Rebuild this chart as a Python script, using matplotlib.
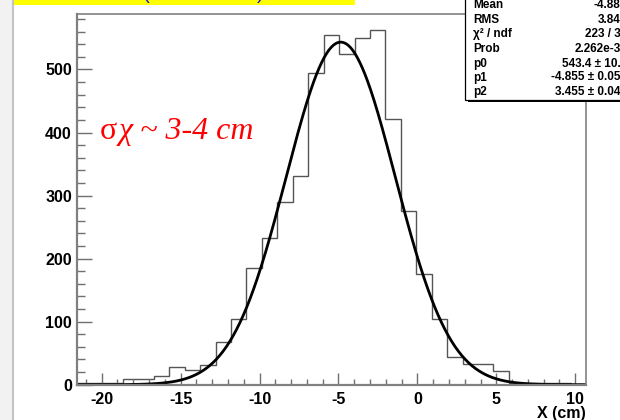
import matplotlib
matplotlib.use("Agg")
import matplotlib.pyplot as plt
import numpy as np
from matplotlib.patches import Rectangle
from matplotlib.ticker import MultipleLocator

plt.rcParams["axes.unicode_minus"] = False

# histogram: 33 bins over the frame range
x_lo, x_hi, nbins = -21.58, 10.68, 33
counts = [2, 2, 3, 9, 9, 14, 28, 24, 32, 68,
          105, 185, 232, 290, 331, 495, 555, 525, 550, 562,
          422, 275, 175, 105, 44, 33, 33, 22, 3, 3,
          2, 2, 1]
# gaussian fit results (from the stats box)
p0, p1, p2 = 543.4, -4.855, 3.455

stat_names = ["Mean", "RMS", "\u03c7\u00b2 / ndf", "Prob", "p0", "p1", "p2"]
stat_values = ["-4.886", "3.847", "223 / 30", "2.262e-32",
               "543.4 \u00b1 10.9", "-4.855 \u00b1 0.056", "3.455 \u00b1 0.045"]

W, H = 620, 420
fig = plt.figure(figsize=(6.2, 4.2), dpi=100)
fig.patch.set_facecolor("white")

# slide decorations
fig.patches.append(Rectangle((0, 0), 13 / W, 1, transform=fig.transFigure,
                             facecolor="#f2f2f2", edgecolor="none", zorder=0))
fig.lines.append(plt.Line2D([13 / W, 13 / W], [0, 1], transform=fig.transFigure,
                            color="#c4c4c4", lw=1.5))
fig.patches.append(Rectangle((14 / W, 1 - 5 / H), 341 / W, 5 / H, transform=fig.transFigure,
                             facecolor="#ffff00", edgecolor="none", zorder=0))
fig.text(143 / W, 1 + 1 / H, "(x resolution)", color="#2020c0", fontsize=15,
         family="Liberation Sans", ha="left", va="baseline")

ax = fig.add_axes([76.7 / W, 1 - 384.7 / H, (586 - 76.7) / W, (384.7 - 14) / H])
edges = np.linspace(x_lo, x_hi, nbins + 1)
ax.stairs(counts, edges, color="#555555", lw=1.0, baseline=None)
xf = np.linspace(x_lo, x_hi, 600)
ax.plot(xf, p0 * np.exp(-0.5 * ((xf - p1) / p2) ** 2), color="black", lw=2.0)

ax.set_xlim(x_lo, x_hi)
ax.set_ylim(0, 588)
for s in ax.spines.values():
    s.set_color("#808080")
    s.set_linewidth(1.2)
ax.spines["left"].set_linewidth(1.6)
ax.spines["bottom"].set_linewidth(1.6)

ax.xaxis.set_major_locator(MultipleLocator(5))
ax.xaxis.set_minor_locator(MultipleLocator(1))
ax.yaxis.set_major_locator(MultipleLocator(100))
ax.yaxis.set_minor_locator(MultipleLocator(20))
ax.tick_params(axis="both", which="both", direction="in", color="#707070", width=1.0,
               top=False, right=False)
ax.tick_params(axis="x", which="major", length=8.5, pad=5)
ax.tick_params(axis="x", which="minor", length=4.3)
ax.tick_params(axis="y", which="major", length=10.5, pad=3.5)
ax.tick_params(axis="y", which="minor", length=5.8)
for lab in ax.get_xticklabels() + ax.get_yticklabels():
    lab.set_fontfamily("Liberation Sans")
    lab.set_fontweight("bold")
    lab.set_fontsize(11.5)

fig.text(586 / W, 1 - 406 / H, "X (cm)", fontsize=11.5, fontweight="bold",
         family="Liberation Sans", ha="right", va="top")

fig.text(100 / W, 1 - 139 / H, "\u03c3", color="red", fontsize=23,
         family="Liberation Serif", ha="left", va="baseline")
fig.text(119 / W, 1 - 139 / H, "\u03c7 ~ 3-4 cm", color="red", fontsize=23,
         family="Liberation Serif", style="italic", ha="left", va="baseline")

# stats box (cut by the image edge)
fig.patches.append(Rectangle((468 / W, 1 - 101.5 / H), 170 / W, 112 / H,
                             transform=fig.transFigure, facecolor="black",
                             edgecolor="none", zorder=4))
fig.patches.append(Rectangle((465 / W, 1 - 99.5 / H), 170 / W, 112 / H,
                             transform=fig.transFigure, facecolor="white",
                             edgecolor="black", lw=0.9, zorder=5))
row_y = [5.3, 20, 34, 49.3, 64, 77.5, 92]
for name, val, yy in zip(stat_names, stat_values, row_y):
    fig.text(473 / W, 1 - yy / H, name, fontsize=8.5, fontweight="bold",
             family="Liberation Sans", ha="left", va="center", zorder=6)
    fig.text(627 / W, 1 - yy / H, val, fontsize=8.5, fontweight="bold",
             family="Liberation Sans", ha="right", va="center", zorder=6)

fig.savefig("out.png", dpi=100)
